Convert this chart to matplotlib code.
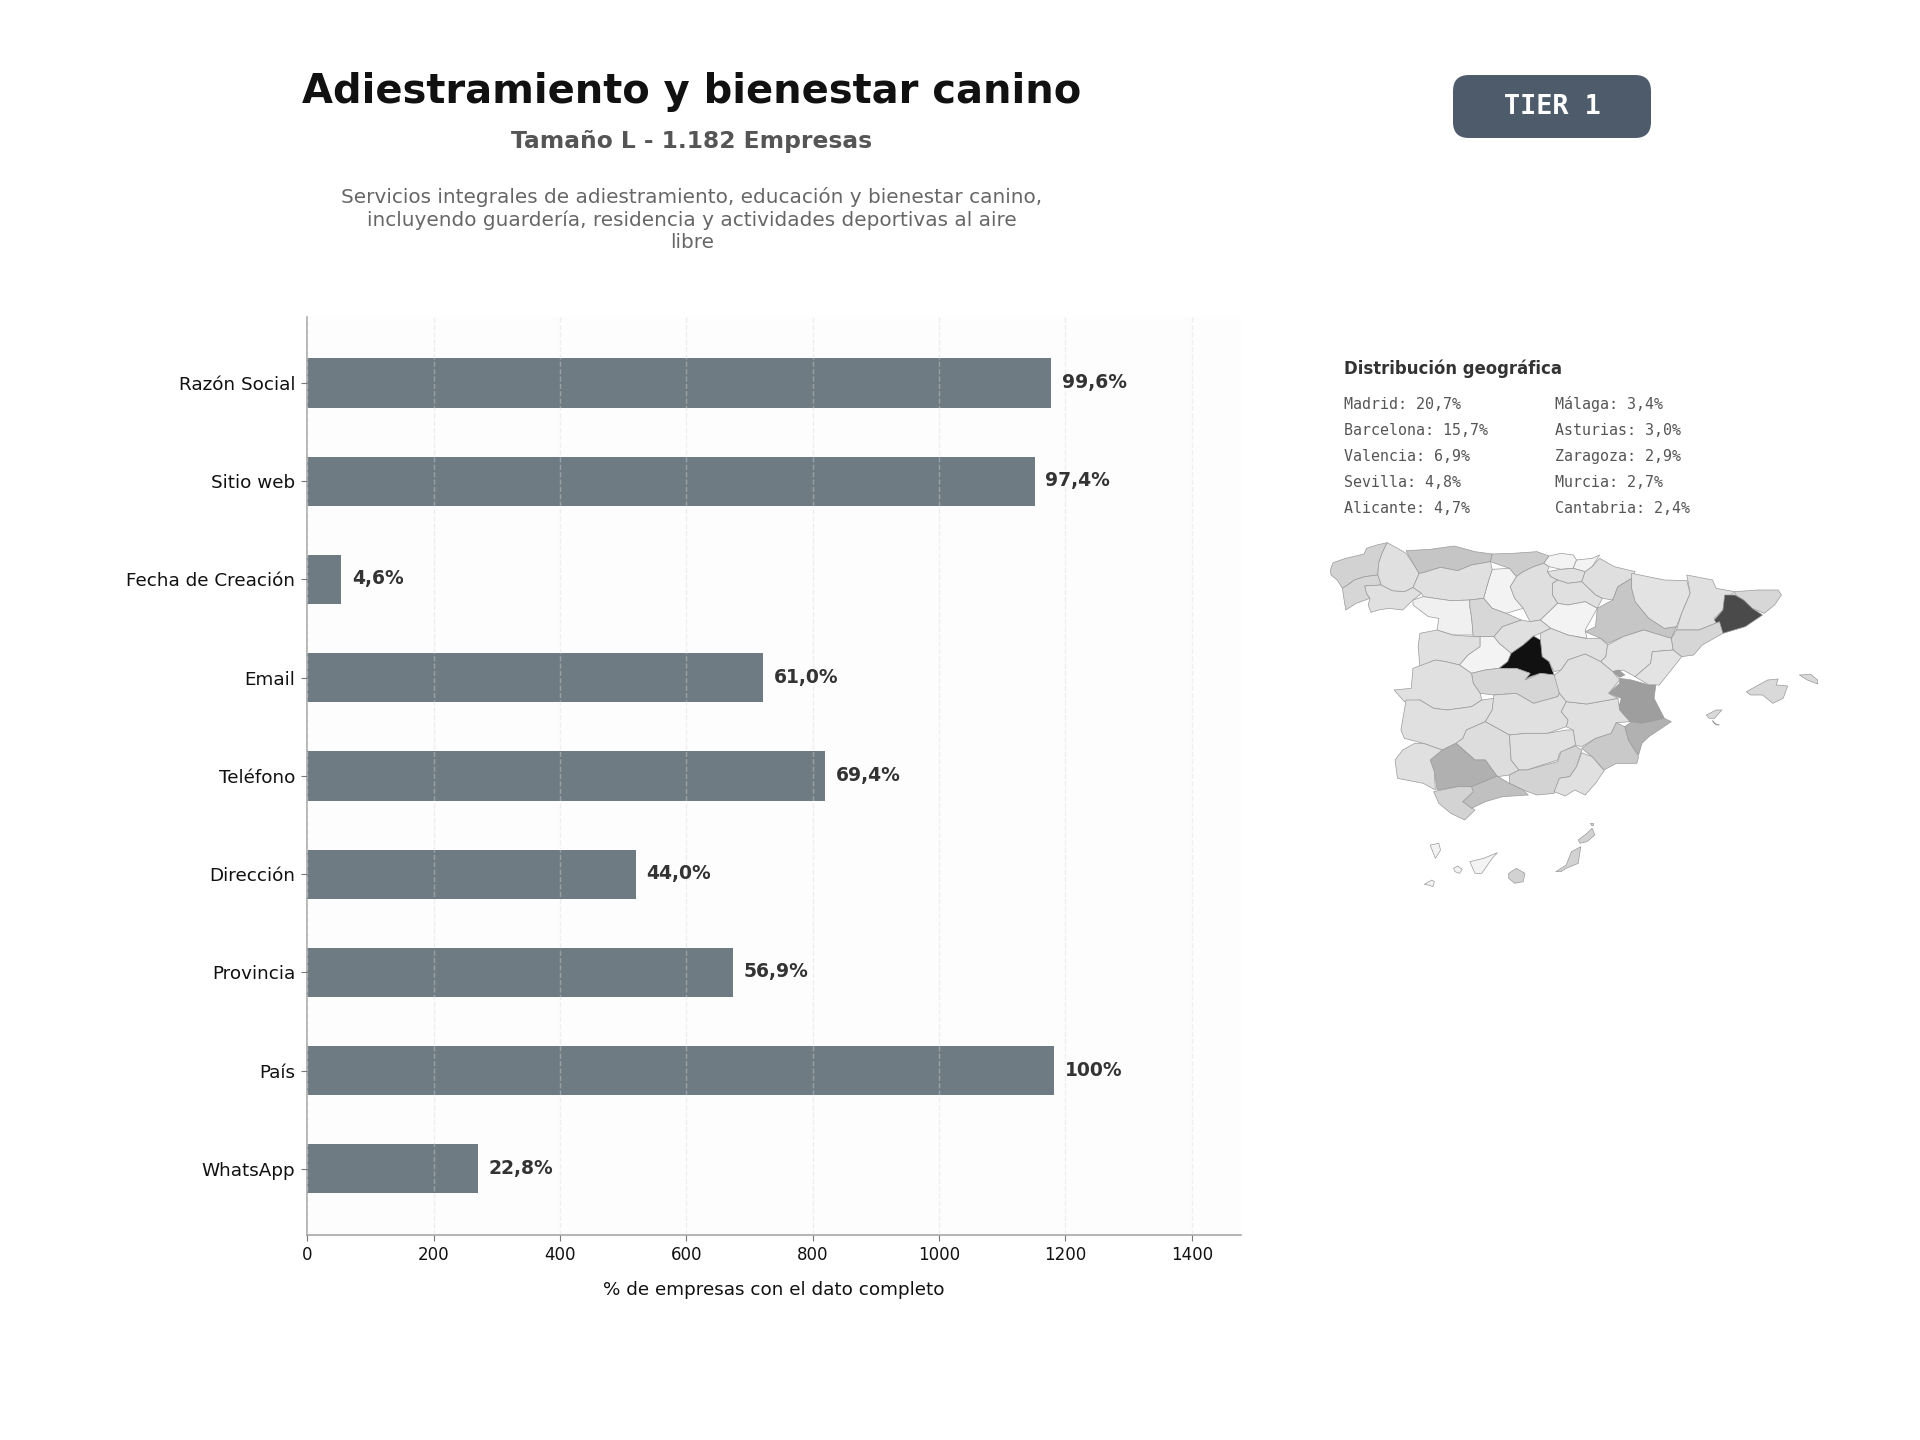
import numpy as np
import matplotlib
matplotlib.use("Agg")
import matplotlib.pyplot as plt
from matplotlib.patches import FancyBboxPatch, Polygon

W, H = 1920, 1440

# --- chart data ---
fields = ["Razón Social", "Sitio web", "Fecha de Creación", "Email", "Teléfono",
          "Dirección", "Provincia", "País", "WhatsApp"]
counts = [1177, 1151, 54, 721, 820, 520, 673, 1182, 270]
value_labels = ["99,6%", "97,4%", "4,6%", "61,0%", "69,4%", "44,0%", "56,9%", "100%", "22,8%"]
total = 1182

title = "Adiestramiento y bienestar canino"
subtitle = "Tamaño L - 1.182 Empresas"
description = ["Servicios integrales de adiestramiento, educación y bienestar canino,",
               "incluyendo guardería, residencia y actividades deportivas al aire",
               "libre"]
tier = "TIER 1"
geo_title = "Distribución geográfica"
geo_left = ["Madrid: 20,7%", "Barcelona: 15,7%", "Valencia: 6,9%", "Sevilla: 4,8%", "Alicante: 4,7%"]
geo_right = ["Málaga: 3,4%", "Asturias: 3,0%", "Zaragoza: 2,9%", "Murcia: 2,7%", "Cantabria: 2,4%"]

# --- map data: province share (%) and traced outline ---
share = {
    "A Coruña": 2.0, "Pontevedra": 1.7, "Ourense": 1.0, "Lugo": 1.0, "Asturias": 3.0, "Cantabria": 2.4,
    "Bizkaia": 0.3, "Gipuzkoa": 0.3, "Alava": 1.0, "Navarra": 1.1, "La Rioja": 1.0, "Burgos": 1.1,
    "Palencia": 0.3, "Leon": 1.0, "Zamora": 0.4, "Valladolid": 1.6, "Soria": 0.3, "Segovia": 1.0,
    "Salamanca": 1.0, "Avila": 0.3, "Madrid": 20.7, "Guadalajara": 1.0, "Zaragoza": 2.9, "Huesca": 0.9,
    "Lleida": 1.0, "Girona": 1.6, "Barcelona": 15.7, "Tarragona": 1.7, "Teruel": 0.9, "Castellon": 0.9,
    "Valencia": 6.9, "Ademuz": 6.9, "Alicante": 4.7, "Murcia": 2.7, "Albacete": 1.0, "Cuenca": 1.0,
    "Toledo": 1.7, "Caceres": 1.0, "Badajoz": 1.0, "Ciudad Real": 1.0, "Cordoba": 1.2, "Jaen": 1.0,
    "Granada": 1.9, "Almeria": 1.0, "Sevilla": 4.8, "Huelva": 1.0, "Cadiz": 1.9, "Malaga": 3.4,
    "Mallorca": 1.5, "Menorca": 1.5, "Ibiza": 1.5, "Formentera": 1.5,
    "La Palma": 0.3, "Tenerife": 0.3, "La Gomera": 0.3, "El Hierro": 0.3, "Gran Canaria": 2.0,
    "Fuerteventura": 2.0, "Lanzarote": 2.0, "La Graciosa": 2.0,
}
outline = {
    "A Coruña": [(30,120),(38,98),(75,85),(128,72),(135,55),(165,45),(195,38),(180,70),(170,100),(168,135),(130,140),(100,150),(80,165),(65,175),(50,150),(32,135)],
    "Pontevedra": [(65,175),(80,165),(100,150),(130,140),(168,135),(178,165),(130,168),(135,190),(145,205),(105,220),(75,240),(70,210)],
    "Ourense": [(130,168),(178,165),(210,182),(245,185),(270,172),(295,190),(270,210),(240,240),(200,235),(170,240),(148,247),(140,225),(145,205),(135,190)],
    "Lugo": [(195,38),(225,55),(250,70),(270,100),(288,130),(270,172),(245,185),(210,182),(178,165),(168,135),(170,100),(180,70)],
    "Asturias": [(250,62),(320,58),(390,48),(450,65),(500,72),(495,95),(440,105),(400,122),(350,112),(300,128),(288,130),(270,100)],
    "Cantabria": [(500,72),(560,70),(630,65),(665,78),(650,100),(620,110),(590,125),(570,140),(550,115),(495,95)],
    "Bizkaia": [(665,78),(700,70),(735,75),(745,90),(735,115),(700,118),(665,110),(650,100)],
    "Gipuzkoa": [(745,90),(790,85),(812,75),(790,110),(770,125),(735,115)],
    "Alava": [(660,125),(700,118),(735,115),(770,125),(760,155),(720,160),(690,150),(670,140)],
    "Navarra": [(812,85),(855,110),(915,125),(905,145),(865,170),(850,210),(820,205),(800,195),(760,155),(770,125),(790,110)],
    "La Rioja": [(675,160),(690,150),(720,160),(760,155),(800,195),(820,205),(805,235),(770,215),(720,225),(690,220),(675,195)],
    "Burgos": [(570,140),(590,125),(620,110),(650,100),(665,110),(660,125),(670,140),(690,150),(675,160),(675,195),(690,220),(640,270),(610,275),(590,235),(565,205),(552,170)],
    "Palencia": [(500,118),(550,115),(570,140),(552,170),(565,205),(590,235),(540,250),(500,235),(475,205),(490,150)],
    "Leon": [(288,130),(300,128),(350,112),(400,122),(440,105),(495,95),(500,118),(490,150),(475,205),(435,210),(380,212),(300,200),(295,190),(270,172)],
    "Zamora": [(270,210),(300,200),(380,212),(435,210),(435,230),(440,260),(445,315),(385,315),(340,300),(345,265),(315,260),(270,225)],
    "Valladolid": [(435,210),(475,205),(500,235),(540,250),(585,270),(530,290),(505,320),(445,320),(440,260),(435,230)],
    "Soria": [(640,270),(690,220),(720,225),(770,215),(805,235),(770,300),(775,325),(720,315),(670,295)],
    "Segovia": [(505,320),(530,290),(585,270),(610,275),(640,270),(670,295),(640,310),(620,318),(590,345),(555,370),(520,340)],
    "Salamanca": [(290,310),(340,300),(385,315),(445,320),(465,320),(465,350),(430,375),(405,405),(365,395),(335,390),(290,410),(285,350)],
    "Avila": [(465,320),(505,320),(520,340),(555,370),(545,395),(520,415),(480,420),(440,430),(405,405),(430,375),(465,350)],
    "Guadalajara": [(640,310),(670,295),(720,315),(770,325),(815,325),(835,345),(830,380),(815,395),(770,372),(720,390),(700,420),(680,425),(665,395),(645,380),(640,330)],
    "Madrid": [(620,318),(640,330),(645,380),(665,395),(680,435),(640,430),(610,440),(595,450),(610,430),(570,415),(520,415),(545,395),(555,370),(590,345)],
    "Zaragoza": [(850,210),(865,170),(905,145),(905,175),(915,215),(955,265),(1000,295),(1035,290),(1020,325),(940,300),(880,320),(835,340),(815,325),(770,305),(800,290),(805,235)],
    "Huesca": [(905,130),(1000,150),(1065,152),(1075,190),(1050,250),(1035,290),(1000,295),(955,265),(915,215),(905,175)],
    "Lleida": [(1065,135),(1140,150),(1150,175),(1205,185),(1175,210),(1170,240),(1145,265),(1160,275),(1100,300),(1035,300),(1050,250),(1075,190)],
    "Girona": [(1205,185),(1270,180),(1330,180),(1340,195),(1320,225),(1290,250),(1255,235),(1230,210),(1205,195)],
    "Barcelona": [(1175,195),(1205,195),(1230,210),(1255,235),(1285,255),(1235,290),(1170,310),(1145,270),(1170,240)],
    "Tarragona": [(1035,300),(1100,300),(1160,275),(1170,310),(1110,345),(1085,375),(1050,380),(1025,360),(1020,325)],
    "Teruel": [(835,345),(880,320),(940,300),(1020,325),(1025,360),(965,365),(960,400),(915,440),(880,420),(850,425),(815,395),(830,380)],
    "Castellon": [(965,365),(1025,360),(1050,380),(1020,420),(985,465),(955,465),(915,440),(960,400)],
    "Valencia": [(870,445),(905,450),(955,465),(975,465),(970,505),(1000,565),(935,580),(900,575),(865,540),(875,505),(838,490),(870,460)],
    "Ademuz": [(848,425),(868,420),(885,435),(870,442)],
    "Alicante": [(905,575),(935,580),(1000,565),(1020,575),(955,620),(935,640),(925,675),(895,630),(885,590)],
    "Murcia": [(760,655),(800,625),(845,610),(860,578),(885,590),(895,630),(925,680),(920,700),(860,700),(825,720),(790,680)],
    "Albacete": [(700,545),(715,515),(775,522),(865,505),(870,540),(900,575),(860,578),(845,610),(800,625),(760,650),(742,645),(735,600),(715,590),(720,570)],
    "Cuenca": [(700,420),(720,390),(770,372),(815,395),(850,425),(870,450),(838,490),(865,505),(775,522),(715,515),(695,490),(675,440)],
    "Toledo": [(440,430),(480,420),(520,415),(570,415),(610,430),(595,450),(640,430),(680,435),(695,490),(690,500),(620,520),(570,490),(505,495),(465,490),(445,460)],
    "Caceres": [(270,415),(335,390),(365,395),(405,405),(440,430),(445,460),(465,490),(470,510),(440,530),(370,540),(330,535),(290,510),(245,515),(215,480),(265,475)],
    "Badajoz": [(250,510),(290,510),(330,535),(370,540),(440,530),(470,510),(505,505),(500,540),(480,575),(425,600),(415,625),(395,640),(355,660),(300,640),(245,625),(235,600)],
    "Ciudad Real": [(505,495),(570,490),(620,520),(690,500),(695,490),(715,515),(700,545),(720,570),(715,590),(660,610),(600,610),(550,615),(480,575),(500,540)],
    "Cordoba": [(415,625),(425,600),(480,575),(550,615),(555,690),(578,720),(550,735),(515,740),(480,690),(450,690),(395,640)],
    "Jaen": [(550,615),(600,610),(660,610),(715,600),(735,600),(742,645),(695,670),(690,690),(600,720),(578,720),(555,690)],
    "Granada": [(578,720),(600,720),(690,695),(700,665),(742,648),(760,660),(745,710),(725,740),(695,745),(680,790),(630,795),(590,780),(550,760),(550,735)],
    "Almeria": [(760,668),(790,680),(825,722),(800,760),(770,795),(740,780),(712,798),(680,785),(695,745),(725,740),(745,710)],
    "Sevilla": [(320,690),(355,660),(395,640),(450,690),(480,690),(515,740),(440,770),(400,770),(340,780),(332,725)],
    "Huelva": [(218,690),(240,660),(275,640),(300,640),(355,660),(320,690),(332,725),(335,780),(300,760),(225,745)],
    "Cadiz": [(330,785),(400,770),(440,770),(450,785),(415,815),(450,840),(420,870),(380,850),(345,820)],
    "Malaga": [(415,815),(445,785),(440,770),(515,738),(550,760),(590,780),(605,795),(530,800),(480,815),(440,835)],
    "Mallorca": [(1238,485),(1300,450),(1330,447),(1325,465),(1358,468),(1345,505),(1315,520),(1285,495),(1250,495)],
    "Menorca": [(1392,435),(1425,433),(1445,450),(1445,462),(1415,450)],
    "Ibiza": [(1122,555),(1150,540),(1167,540),(1145,565),(1130,565)],
    "Formentera": [(1140,572),(1150,585),(1160,585),(1145,580)],
    "La Palma": [(320,945),(345,940),(350,960),(335,985)],
    "Tenerife": [(435,995),(475,985),(515,968),(500,985),(470,1030),(450,1030)],
    "La Gomera": [(388,1015),(400,1008),(413,1018),(405,1030),(392,1025)],
    "El Hierro": [(303,1063),(325,1050),(332,1055),(328,1070),(315,1065)],
    "Gran Canaria": [(548,1030),(570,1015),(595,1030),(590,1055),(565,1060),(548,1045)],
    "Fuerteventura": [(685,1025),(715,1005),(730,965),(757,950),(750,1000),(715,1015),(700,1025)],
    "Lanzarote": [(750,930),(775,910),(790,895),(798,915),(775,935),(755,940)],
    "La Graciosa": [(785,880),(792,880),(792,886),(786,886)],
}
gray_share = [0.0, 0.3, 1.0, 2.4, 4.8, 6.9, 15.7, 20.7]
gray_level = [250, 243, 224, 204, 176, 158, 74, 17]


def shade(v):
    g = np.interp(v, gray_share, gray_level) / 255
    return (g, g, g)


def fx(x):
    return x / W


def fy(y):
    return 1 - y / H


plt.rcParams["font.family"] = "DejaVu Sans"
fig = plt.figure(figsize=(W / 100, H / 100), dpi=100, facecolor="white")

# --- bars ---
ax = fig.add_axes([fx(307.3), fy(1235.2), (1240.8 - 307.3) / W, (1235.2 - 316.7) / H])
ax.set_facecolor("#fdfdfd")
y = np.arange(len(fields))
ax.barh(y, counts, height=0.5, color="#6f7b83", zorder=2)
ax.set_yticks(y, fields, fontsize=13.2, color="#111111")
ax.set_xlim(0, total * 1.25)
ax.set_ylim(8.675, -0.675)
ax.set_xticks(np.arange(0, 1401, 200))
ax.tick_params(axis="x", labelsize=12, colors="#111111", length=4.5, color="#777777")
ax.tick_params(axis="y", length=4.5, color="#777777", pad=4)
ax.grid(axis="x", ls="--", lw=1, color="#d8d8d8", alpha=0.4, zorder=3)
ax.set_axisbelow(False)
for s in ("top", "right"):
    ax.spines[s].set_visible(False)
for s in ("left", "bottom"):
    ax.spines[s].set_color("#a0a0a0")
    ax.spines[s].set_linewidth(1.1)
ax.set_xlabel("% de empresas con el dato completo", fontsize=13.2, color="#111111", labelpad=12)
for yi, c, lab in zip(y, counts, value_labels):
    ax.text(c + 17, yi - 0.005, lab, va="center", ha="left", fontsize=13.5, fontweight="bold",
            color="#333333", zorder=4)

# --- header ---
fig.text(fx(692), fy(91.5), title, ha="center", va="center", fontsize=28.8, fontweight="bold", color="#111111")
fig.text(fx(692), fy(141.5), subtitle, ha="center", va="center", fontsize=16.85, fontweight="bold", color="#555555")
for yy, line in zip((197, 220, 242), description):
    fig.text(fx(692), fy(yy), line, ha="center", va="center", fontsize=14.4, color="#666666")

# --- badge ---
bg = fig.add_axes([0, 0, 1, 1], zorder=-1)
bg.set_xlim(0, W)
bg.set_ylim(H, 0)
bg.axis("off")
bg.add_patch(FancyBboxPatch((1453 + 16, 75 + 16), 198 - 32, 63 - 32,
                            boxstyle="round,pad=16,rounding_size=16", fc="#4d5b6b", ec="#4d5b6b", lw=0))
fig.text(fx(1552), fy(107), tier, ha="center", va="center", fontsize=19.3, fontweight="bold",
         family="DejaVu Sans Mono", color="white")

# --- geographic list ---
fig.text(fx(1344), fy(373.5), geo_title, ha="left", va="baseline", fontsize=11.9, fontweight="bold", color="#333333")
for i, (a, b) in enumerate(zip(geo_left, geo_right)):
    base = fy(409.4 + 26 * i)
    fig.text(fx(1344), base, a, ha="left", va="baseline", fontsize=10.8, family="DejaVu Sans Mono", color="#555555")
    fig.text(fx(1555), base, b, ha="left", va="baseline", fontsize=10.8, family="DejaVu Sans Mono", color="#555555")

# --- map ---
mp = fig.add_axes([fx(1320), fy(910), 540 / W, 380 / H])
mp.set_xlim(0, 1568)
mp.set_ylim(1140, 0)
mp.axis("off")
for name, pts in outline.items():
    mp.add_patch(Polygon(pts, closed=True, fc=shade(share[name]), ec="#9a9a9a", lw=0.5, joinstyle="round"))

fig.savefig("out.png", dpi=100, facecolor="white")
